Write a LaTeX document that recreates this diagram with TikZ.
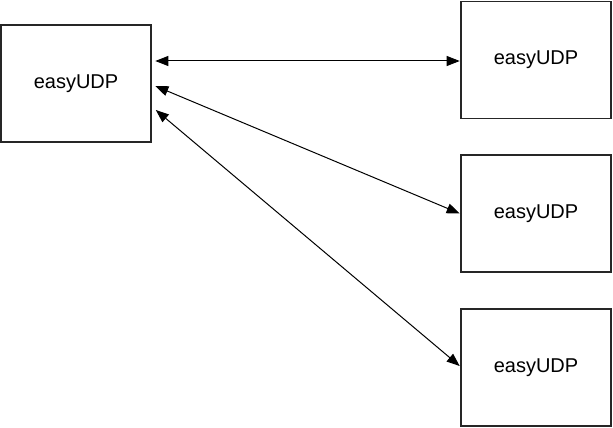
\documentclass[tikz,border=0pt]{standalone}
\usepackage{fontspec}
\setmainfont{Liberation Sans}
\usetikzlibrary{arrows.meta}
\begin{document}
\begin{tikzpicture}[x=1pt,y=-1pt,
  box/.style={draw=black!85,line width=1.6pt,fill=white,minimum width=150pt,minimum height=117pt,inner sep=0pt,font=\fontsize{20}{23}\selectfont},
  link/.style={line width=1pt,{Triangle[length=13pt,width=10pt]}-{Triangle[length=13pt,width=10pt]}}]
\useasboundingbox (0,0) rectangle (613,428);
\node[box] (L) at (76,83.5) {easyUDP};
\node[box] (R1) at (536,60) {easyUDP};
\node[box] (R2) at (536,213.5) {easyUDP};
\node[box] (R3) at (536,367.5) {easyUDP};
\draw[link] ([xshift=3.5pt,yshift=22.5pt]L.east) -- ([xshift=-0.5pt,yshift=-1pt]R1.west);
\draw[link] ([xshift=3.5pt,yshift=-2.5pt]L.east) -- ([xshift=-0.5pt,yshift=0pt]R2.west);
\draw[link] ([xshift=4pt,yshift=-26.5pt]L.east) -- ([xshift=-0.5pt,yshift=1.5pt]R3.west);
\end{tikzpicture}
\end{document}
